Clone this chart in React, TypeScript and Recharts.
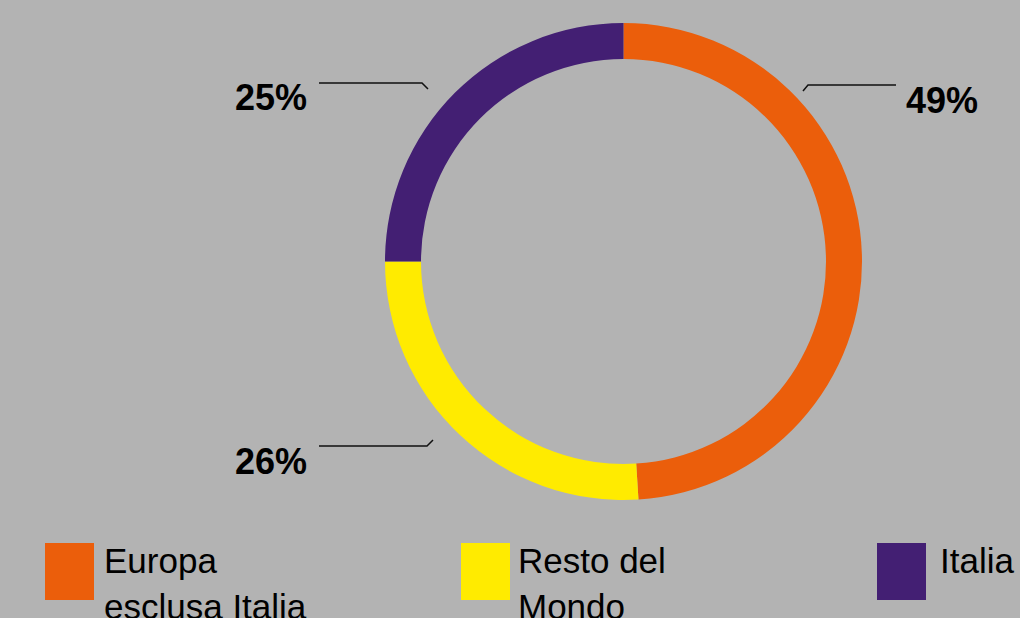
import React from "react";
import { PieChart, Pie, Cell, Legend } from "recharts";

const categories = ["Europa esclusa Italia", "Resto del Mondo", "Italia"];
const shares = [49, 26, 25];
const colors = ["#EB5E0B", "#FFEB00", "#431F73"];

const data = categories.map((name, i) => ({ name, value: shares[i] }));

const FONT = "'Liberation Sans', Arial, Helvetica, sans-serif";

// leader-line geometry relative to the pie centre (layout only)
const labelLayout = [
  { start: [179.5, -170.5], elbow: [184.5, -176.5], end: [272.5, -176.5], text: [282.5, -148.5], anchor: "start" },
  { start: [-190.5, 178.5], elbow: [-196.5, 184.5], end: [-304.5, 184.5], text: [-316.5, 212.5], anchor: "end" },
  { start: [-195.5, -172.5], elbow: [-201.5, -178.5], end: [-304.5, -178.5], text: [-316.5, -151.5], anchor: "end" },
];

// legend layout (layout only)
const legendSwatchLeft = [45, 461, 877];
const legendTextGap = [10, 8, 14];

const renderLabel = (props: any) => {
  const { cx, cy, index, value } = props;
  const l = labelLayout[index];
  const p = (q: number[]) => `${cx + q[0]},${cy + q[1]}`;
  return (
    <g key={`lbl-${index}`}>
      <polyline
        points={`${p(l.start)} ${p(l.elbow)} ${p(l.end)}`}
        fill="none"
        stroke="#111"
        strokeWidth={1.5}
      />
      <text
        x={cx + l.text[0]}
        y={cy + l.text[1]}
        textAnchor={l.anchor as any}
        fontFamily={FONT}
        fontWeight={700}
        fontSize={36}
        fill="#000"
      >
        {`${value}%`}
      </text>
    </g>
  );
};

const renderLegend = () => (
  <div style={{ position: "relative", width: 1020, height: 80, fontFamily: FONT }}>
    {categories.map((c, i) => (
      <div
        key={c}
        style={{
          position: "absolute",
          left: legendSwatchLeft[i],
          top: 0,
          display: "flex",
          alignItems: "flex-start",
        }}
      >
        <div style={{ width: 49, height: 57, background: colors[i], flex: "0 0 auto" }} />
        <div
          style={{
            marginLeft: legendTextGap[i],
            width: 215,
            fontSize: 35,
            lineHeight: "46px",
            marginTop: -5.5,
            color: "#000",
            whiteSpace: "normal",
          }}
        >
          {c}
        </div>
      </div>
    ))}
  </div>
);

export default function App() {
  return (
    <div
      style={{
        position: "fixed",
        left: 0,
        top: 0,
        width: 1020,
        height: 618,
        background: "#B3B3B3",
        overflow: "hidden",
      }}
    >
      <PieChart width={1020} height={618} margin={{ top: 0, right: 0, bottom: 0, left: 0 }}>
        <Pie
          data={data}
          dataKey="value"
          nameKey="name"
          cx={623.5}
          cy={261.5}
          outerRadius={238.5}
          innerRadius={202.5}
          startAngle={90}
          endAngle={-270}
          stroke="none"
          label={renderLabel}
          labelLine={false}
          isAnimationActive={false}
        >
          {data.map((d, i) => (
            <Cell key={d.name} fill={colors[i]} />
          ))}
        </Pie>
        <Legend
          content={renderLegend}
          wrapperStyle={{ position: "absolute", left: 0, top: 543, width: 1020, bottom: "auto" }}
        />
      </PieChart>
    </div>
  );
}
